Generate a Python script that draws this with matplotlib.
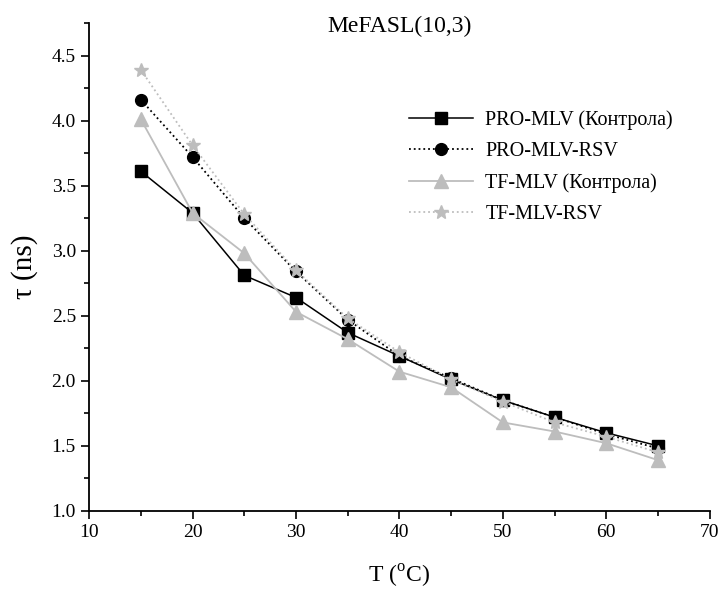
import matplotlib.pyplot as plt
from matplotlib.ticker import MultipleLocator

# lifetime vs temperature, MeFASL(10,3) probe
temp = [15, 20, 25, 30, 35, 40, 45, 50, 55, 60, 65]
pro_ctrl = [3.61, 3.29, 2.81, 2.64, 2.37, 2.19, 2.01, 1.85, 1.72, 1.60, 1.50]
pro_rsv = [4.16, 3.72, 3.25, 2.84, 2.47, 2.19, 2.02, 1.85, 1.72, 1.59, 1.48]
tf_ctrl = [4.01, 3.29, 2.98, 2.53, 2.32, 2.07, 1.95, 1.68, 1.61, 1.52, 1.39]
tf_rsv = [4.39, 3.81, 3.28, 2.85, 2.48, 2.22, 2.01, 1.84, 1.68, 1.57, 1.45]

labels = ['PRO-MLV (Контрола)', 'PRO-MLV-RSV', 'TF-MLV (Контрола)', 'TF-MLV-RSV']

plt.rcParams['font.family'] = ['Liberation Serif', 'DejaVu Serif']
plt.rcParams['mathtext.fontset'] = 'custom'
plt.rcParams['mathtext.rm'] = 'Liberation Serif'

fig = plt.figure(figsize=(7.19, 6.06), dpi=100)
ax = fig.add_axes([0.124, 0.157, 0.863, 0.805])

grey = '#bdbdbd'
ax.plot(temp, pro_ctrl, '-', color='black', lw=1.1, marker='s', ms=8, label=labels[0])
ax.plot(temp, pro_rsv, ':', color='black', lw=1.3, marker='o', ms=8.5, label=labels[1])
ax.plot(temp, tf_ctrl, '-', color=grey, lw=1.3, marker='^', ms=9.5, label=labels[2])
ax.plot(temp, tf_rsv, ':', color=grey, lw=1.3, marker='*', ms=10.5, label=labels[3])

ax.set_xlim(10, 70)
ax.set_ylim(1.0, 4.75)
ax.set_xticks(range(10, 71, 10))
ax.set_yticks([1.0, 1.5, 2.0, 2.5, 3.0, 3.5, 4.0, 4.5])
ax.xaxis.set_minor_locator(MultipleLocator(5))
ax.yaxis.set_minor_locator(MultipleLocator(0.25))
ax.yaxis.set_major_formatter(plt.FormatStrFormatter('%.1f'))
ax.tick_params(which='major', direction='out', length=6, width=1.2, labelsize=14)
ax.tick_params(which='minor', direction='out', length=3.5, width=1.2)

for s in ['top', 'right']:
    ax.spines[s].set_visible(False)
for s in ['left', 'bottom']:
    ax.spines[s].set_linewidth(1.3)

ax.set_xlabel('T ($^{\\rm o}$C)', fontsize=17, labelpad=16)
ax.set_ylabel('τ (ns)', fontsize=21, labelpad=10)
ax.text(0.5, 1.015, 'MeFASL(10,3)', transform=ax.transAxes, ha='center', va='top', fontsize=17)

ax.legend(loc='upper left', bbox_to_anchor=(0.515, 0.822), frameon=False, fontsize=14.5,
          handlelength=3.2, handletextpad=0.6, labelspacing=0.6, borderpad=0, borderaxespad=0)

fig.savefig('out.png', dpi=100)
